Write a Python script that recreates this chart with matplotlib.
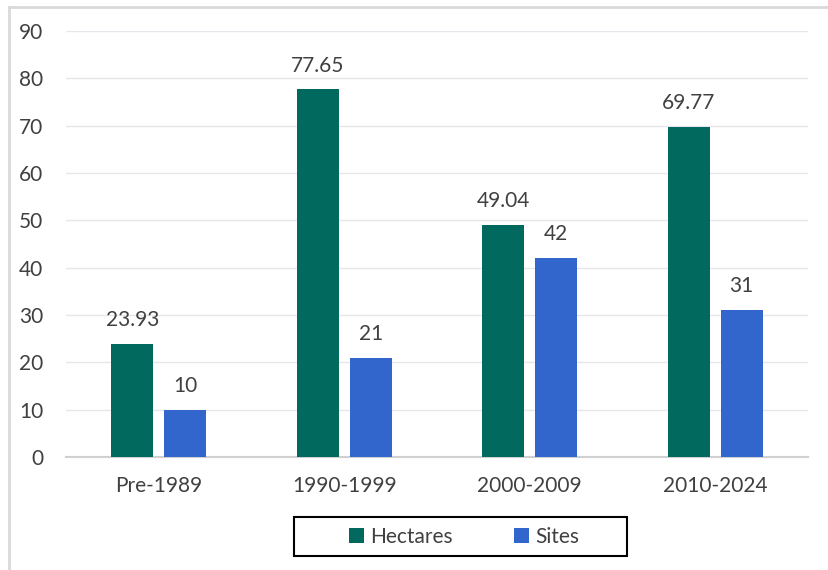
import matplotlib
matplotlib.use('Agg')
import matplotlib.pyplot as plt
import numpy as np
from matplotlib.lines import Line2D
from matplotlib.patches import Rectangle

plt.rcParams['font.family'] = ['Lato', 'DejaVu Sans']

# data
periods = ['Pre-1989', '1990-1999', '2000-2009', '2010-2024']
hectares = [23.93, 77.65, 49.04, 69.77]
sites = [10, 21, 42, 31]
hectare_labels = ['23.93', '77.65', '49.04', '69.77']
site_labels = ['10', '21', '42', '31']

teal = '#02695F'
blue = '#3366CC'
text_col = '#404040'
fs = 15

fig = plt.figure(figsize=(8.29, 5.70), dpi=100)
ax = fig.add_axes([66 / 829, 1 - 457 / 570, 742 / 829, 426 / 570])

x = np.arange(len(periods))
w = 0.226
off = 0.143
b1 = ax.bar(x - off, hectares, w, color=teal, label='Hectares', zorder=3)
b2 = ax.bar(x + off, sites, w, color=blue, label='Sites', zorder=3)

for bars, labels in ((b1, hectare_labels), (b2, site_labels)):
    for bar, lab in zip(bars, labels):
        ax.annotate(lab, (bar.get_x() + bar.get_width() / 2, bar.get_height()),
                    xytext=(0, 10), textcoords='offset points',
                    ha='center', va='bottom', fontsize=fs, color=text_col)

ax.set_xlim(-0.5, 3.5)
ax.set_ylim(0, 90)
ax.set_yticks(range(0, 91, 10))
ax.set_xticks(x)
ax.set_xticklabels(periods)
ax.tick_params(axis='both', length=0, labelsize=fs, labelcolor=text_col)
ax.tick_params(axis='x', pad=14)
ax.tick_params(axis='y', pad=16.5)
ax.yaxis.grid(True, color='#E6E6EC', linewidth=1)
ax.set_axisbelow(True)
for s in ['top', 'right', 'left']:
    ax.spines[s].set_visible(False)
ax.spines['bottom'].set_color('#D0D0D0')
ax.spines['bottom'].set_linewidth(1.5)

# legend (frame drawn separately to match the wide box)
leg = fig.legend(handles=[b1, b2], loc='center', bbox_to_anchor=(464 / 829, 1 - 537 / 570),
                 ncol=2, fontsize=fs, frameon=False,
                 handlelength=0.75, handleheight=0.75, handletextpad=0.3,
                 columnspacing=2.9, borderpad=0, borderaxespad=0)
for t in leg.get_texts():
    t.set_color(text_col)
fig.add_artist(Rectangle((294 / 829, 1 - 556 / 570), 333 / 829, 39 / 570,
                         transform=fig.transFigure, fill=False,
                         edgecolor='black', linewidth=1.5))

# chart border (top and left visible)
fig.add_artist(Line2D([9 / 829, 1], [1 - 7 / 570, 1 - 7 / 570], color='#D9D9D9', linewidth=2))
fig.add_artist(Line2D([9 / 829, 9 / 829], [0, 1 - 7 / 570], color='#D9D9D9', linewidth=2))

fig.savefig('out.png', dpi=100, facecolor='white')
